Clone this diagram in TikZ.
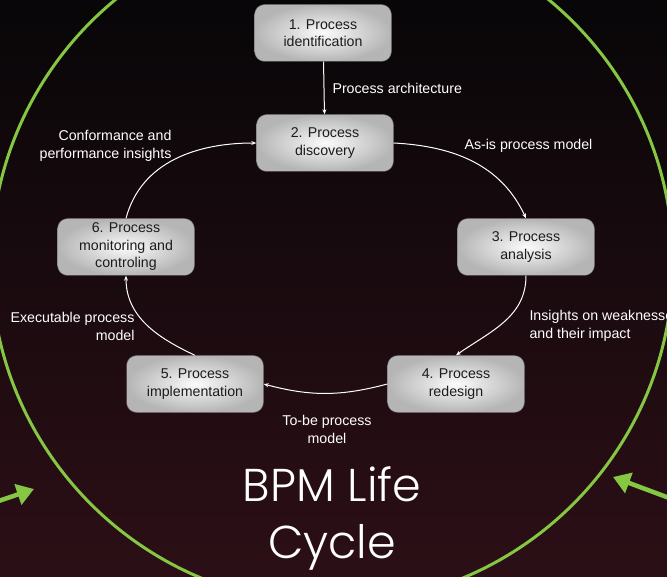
\documentclass[tikz,border=0pt]{standalone}
\usepackage{fontspec}
\setmainfont{Liberation Sans}
\newfontfamily\titlefont{Poppins Light}
\usetikzlibrary{arrows.meta}
\definecolor{bpmgreen}{RGB}{133,199,66}
\definecolor{boxtext}{RGB}{28,28,28}
\definecolor{bgtop}{RGB}{8,6,8}
\definecolor{bgbottom}{RGB}{44,15,22}

\begin{document}
\begin{tikzpicture}[x=1pt, y=-1pt,
    proc/.style={rounded corners=10pt, minimum width=137pt, minimum height=57pt,
      inner color=white!97!gray, outer color=gray!58, draw=black!70, line width=0.4pt,
      text=boxtext, align=center, font=\fontsize{14.2}{17.5}\selectfont},
    lbl/.style={text=white, font=\fontsize{14.2}{18}\selectfont},
    flow/.style={draw=white, line width=1pt, -{Stealth[length=5pt,width=4pt]}},
    big/.style={draw=bpmgreen, line width=4.5pt, -{Triangle[length=17pt,width=21pt]}}]
    \useasboundingbox (0,0) rectangle (667,577);
    \fill[top color=bgtop, bottom color=bgbottom] (0,0) rectangle (667,577);
    % big circle round the cycle
    \draw[bpmgreen, line width=3pt] (332,263) circle[radius=341pt];
    \coordinate (gl1) at (-19,507);
    \coordinate (gl2) at (34,489);
    \coordinate (gr1) at (680,502);
    \coordinate (gr2) at (613,477);
    \path[big] (gl1)--(gl2);
    \path[big] (gr1)--(gr2);
    % the six phases
    \node[proc] (I) at (323,33) {1. Process\\identification};
    \node[proc] (D) at (325,143) {2. Process\\discovery};
    \node[proc] (A) at (526,247) {3. Process\\analysis};
    \node[proc] (R) at (456,384) {4. Process\\redesign};
    \node[proc] (E) at (195,384) {5. Process\\implementation};
    \node[proc] (M) at (126,247) {6. Process\\monitoring and\\controling};
    \path[flow] (I)--(D);
    \path[flow] (D.east) to [out=-3,in=115](A.north);
    \path[flow] (A.south) to [out=-90,in=35](R.north);
    \path[flow] (R.west) to [out=195,in=-15](E.east);
    \path[flow] (E.north) to [out=155,in=-90](M.south);
    \path[flow] (M.north) to [out=75,in=180](D.west);
    % outputs
    \node[lbl, anchor=west] (pa) at (329,88) {Process architecture};
    \node[lbl, anchor=west] (asis) at (461,146) {As-is process model};
    \node[lbl, anchor=west, align=left] (ins) at (526,326) {Insights on weaknesses\\and their impact};
    \node[lbl, align=center] (tobe) at (327,429) {To-be process\\model};
    \node[lbl, anchor=east, align=right] (exe) at (138,326) {Executable process\\model};
    \node[lbl, anchor=east, align=right] (cpi) at (175,146) {Conformance and\\performance insights};
    \node[text=white, align=center, font=\titlefont\fontsize{46}{57}\selectfont] (T) at (332,518) {BPM Life\\Cycle};
\end{tikzpicture}
\end{document}
